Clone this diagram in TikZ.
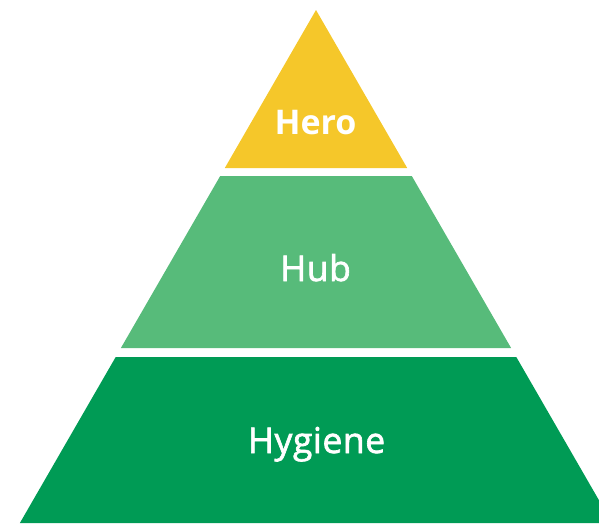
\documentclass[tikz,border=0pt]{standalone}
\usepackage{fontspec}
\setmainfont{Open Sans}
\newfontfamily\semifont[FakeBold=1.8, LetterSpace=1.5]{Open Sans}
\definecolor{heroyellow}{HTML}{F5C72A}
\definecolor{hublight}{HTML}{57BB7A}
\definecolor{hygienegreen}{HTML}{009B55}
\begin{document}
\begin{tikzpicture}[x=1pt, y=-1pt, label/.style = {text=white, anchor=base, font=\semifont\fontsize{35.5}{40}\selectfont, inner sep=0pt}]
\useasboundingbox (0,0) rectangle (599,523);
\clip (0,0) rectangle (599,523);

% layers of the pyramid, apex at (316,10), sides at 60 degrees
\fill[heroyellow] (316,10) -- (407.2,168) -- (224.8,168) -- cycle;
\fill[hublight] (411.8,176) -- (511.1,348) -- (120.9,348) -- (220.2,176) -- cycle;
\fill[hygienegreen] (516.3,357) -- (612.1,523) -- (19.9,523) -- (115.7,357) -- cycle;

\node[label, font=\fontsize{34}{38}\selectfont\bfseries] (hero) at (315.5,134) {Hero};
\node[label] (hub) at (315.5,281) {Hub};
\node[label] (hygiene) at (316.5,453) {Hygiene};

\end{tikzpicture}
\end{document}
